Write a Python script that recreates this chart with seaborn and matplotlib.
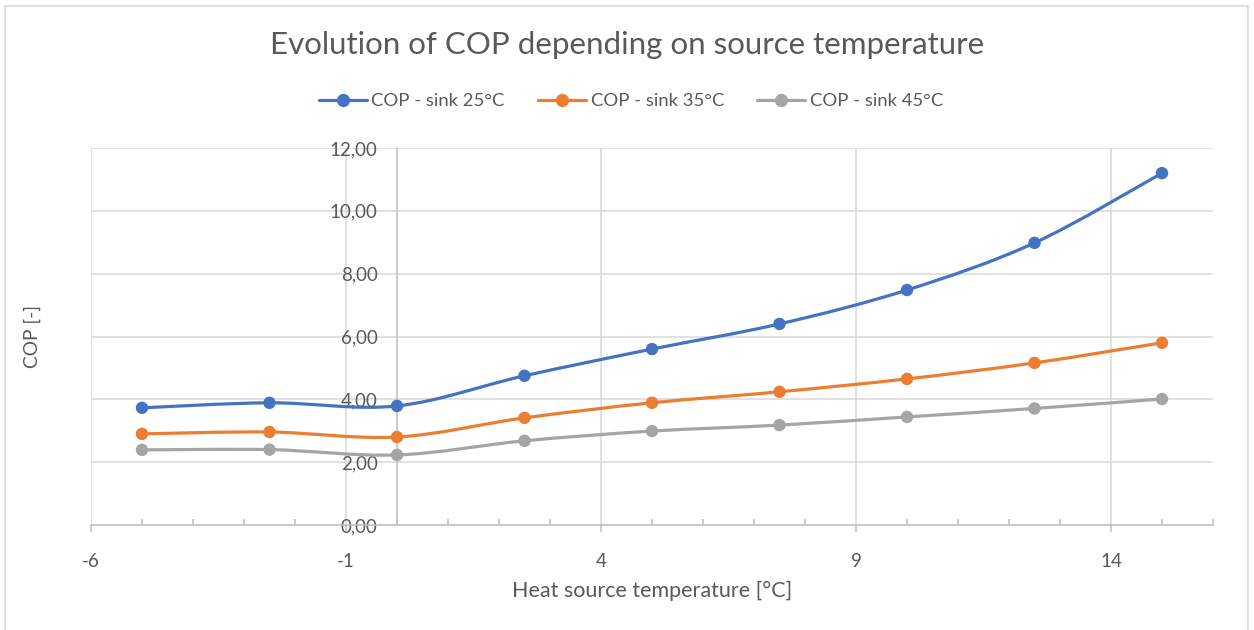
import numpy as np
import pandas as pd
import matplotlib
matplotlib.use("Agg")
import matplotlib.pyplot as plt
from matplotlib.path import Path
from matplotlib.patches import PathPatch, Rectangle
from matplotlib.lines import Line2D
from matplotlib.ticker import FuncFormatter, MultipleLocator, FixedLocator
import seaborn as sns

# ---- data ----
source_temp = [-5, -2.5, 0, 2.5, 5, 7.5, 10, 12.5, 15]
cop_sink25 = [3.73, 3.89, 3.79, 4.75, 5.60, 6.40, 7.48, 8.98, 11.20]
cop_sink35 = [2.90, 2.96, 2.80, 3.41, 3.89, 4.24, 4.65, 5.16, 5.80]
cop_sink45 = [2.39, 2.40, 2.23, 2.68, 2.99, 3.18, 3.44, 3.71, 4.01]
series_names = ["COP - sink 25°C", "COP - sink 35°C", "COP - sink 45°C"]
x_ticks = [-6, -1, 4, 9, 14]
y_ticks = [0, 2, 4, 6, 8, 10, 12]

colors = ["#4472C4", "#ED7D31", "#A5A5A5"]
text_color = "#595959"
grid_color = "#D9D9D9"

sns.set_theme(style="white")
plt.rcParams["font.family"] = ["Lato", "DejaVu Sans"]
plt.rcParams["axes.unicode_minus"] = False

fig = plt.figure(figsize=(12.54, 6.30), dpi=100)
W, H = 1254, 630
ax = fig.add_axes([91 / W, 1 - 525 / H, (1213 - 91) / W, (525 - 148) / H])

df = pd.DataFrame({
    "x": source_temp * 3,
    "y": cop_sink25 + cop_sink35 + cop_sink45,
    "series": [series_names[0]] * len(source_temp) + [series_names[1]] * len(source_temp)
              + [series_names[2]] * len(source_temp),
})


def smooth_path(xs, ys):
    P = np.column_stack([xs, ys]).astype(float)
    n = len(P)
    verts = [P[0]]
    codes = [Path.MOVETO]
    for i in range(n - 1):
        p_prev = P[i - 1] if i > 0 else P[i]
        p_next2 = P[i + 2] if i + 2 < n else P[i + 1]
        c1 = P[i] + (P[i + 1] - p_prev) / 6.0
        c2 = P[i + 1] - (p_next2 - P[i]) / 6.0
        verts += [c1, c2, P[i + 1]]
        codes += [Path.CURVE4] * 3
    return Path(verts, codes)


for name, col, ys in zip(series_names, colors, [cop_sink25, cop_sink35, cop_sink45]):
    patch = PathPatch(smooth_path(source_temp, ys), facecolor="none", edgecolor=col,
                      lw=2.3, zorder=3, capstyle="round", joinstyle="round")
    ax.add_patch(patch)

sns.scatterplot(data=df, x="x", y="y", hue="series", palette=colors, s=80,
                edgecolor="none", legend=False, ax=ax, zorder=4)

ax.set_xlim(-6, 16)
ax.set_ylim(0, 12)
ax.xaxis.set_major_locator(FixedLocator(x_ticks))
ax.xaxis.set_minor_locator(MultipleLocator(1))
ax.yaxis.set_major_locator(FixedLocator(y_ticks))
ax.yaxis.set_major_formatter(FuncFormatter(lambda v, p: f"{v:.2f}".replace(".", ",")))
ax.xaxis.set_major_formatter(FuncFormatter(lambda v, p: f"{int(v)}"))

ax.grid(True, which="major", color=grid_color, lw=1.1)
ax.set_axisbelow(True)
for s in ["top", "right"]:
    ax.spines[s].set_visible(False)
ax.spines["left"].set_position(("data", 0))
ax.spines["left"].set_color("#BFBFBF")
ax.spines["left"].set_linewidth(1.1)
ax.spines["bottom"].set_color("#BFBFBF")
ax.spines["bottom"].set_linewidth(1.1)

ax.tick_params(axis="x", which="major", direction="out", length=5, width=1.1,
               color="#BFBFBF", labelsize=13.5, labelcolor=text_color, pad=15, bottom=True)
ax.tick_params(axis="x", which="minor", direction="in", length=4, width=1.1,
               color="#BFBFBF", bottom=True)
ax.tick_params(axis="y", which="major", length=0, labelsize=13.5, labelcolor=text_color, pad=14)

ax.set_xlabel("")
ax.set_ylabel("")
fig.text(32 / W, 1 - 337 / H, "COP [-]", rotation=90, ha="center", va="center",
         fontsize=13.8, color=text_color)
fig.text(652 / W, 1 - 591 / H, "Heat source temperature [°C]", ha="center", va="center",
         fontsize=15.5, color=text_color)
fig.text(627 / W, 1 - 45 / H, "Evolution of COP depending on source temperature",
         ha="center", va="center", fontsize=22.5, color=text_color)

handles = [Line2D([0], [0], color=c, lw=2.3, marker="o", markersize=8.5) for c in colors]
fig.legend(handles, series_names, loc="center", bbox_to_anchor=(631 / W, 1 - 101 / H),
           ncol=3, frameon=False, fontsize=13.3, labelcolor=text_color,
           handlelength=2.6, handletextpad=0.25, columnspacing=1.8)

fig.patches.append(Rectangle((5 / W, -0.01), (1248 - 5) / W, 1.0, transform=fig.transFigure,
                             fill=False, edgecolor="#D9D9D9", lw=1.2))

fig.savefig("out.png", dpi=100)
